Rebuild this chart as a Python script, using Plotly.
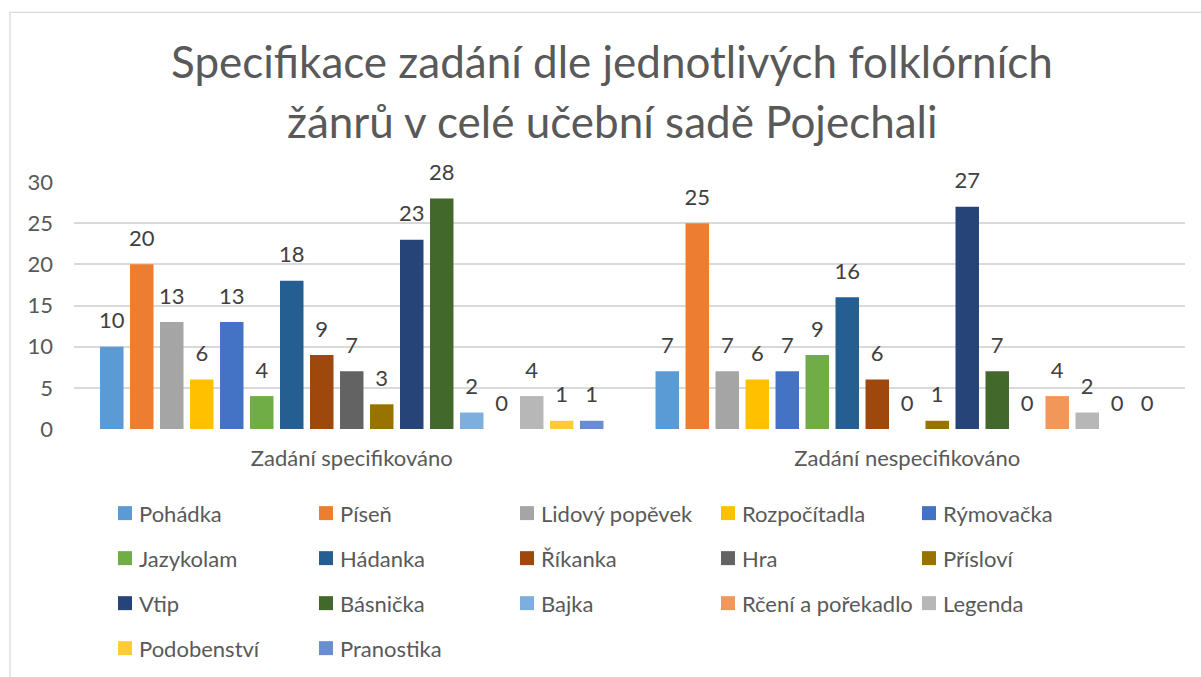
import plotly.graph_objects as go

categories = ["Zadání specifikováno", "Zadání nespecifikováno"]
series_names = ["Pohádka", "Píseň", "Lidový popěvek", "Rozpočítadla", "Rýmovačka",
                "Jazykolam", "Hádanka", "Říkanka", "Hra", "Přísloví",
                "Vtip", "Básnička", "Bajka", "Rčení a pořekadlo", "Legenda",
                "Podobenství", "Pranostika"]
specifikovano = [10, 20, 13, 6, 13, 4, 18, 9, 7, 3, 23, 28, 2, 0, 4, 1, 1]
nespecifikovano = [7, 25, 7, 6, 7, 9, 16, 6, 0, 1, 27, 7, 0, 4, 2, 0, 0]
colors = ["#5B9BD5", "#ED7D31", "#A5A5A5", "#FFC000", "#4472C4",
          "#70AD47", "#255E91", "#9E480E", "#636363", "#997300",
          "#264478", "#43682B", "#7CAFDD", "#F1975A", "#B7B7B7",
          "#FFCD33", "#698ED0"]
y_ticks = [0, 5, 10, 15, 20, 25, 30]

W, H = 1201, 677
L, R, T, B = 74, 1185, 182, 429.5
FONT = "Lato"
TXT = "#595959"
FS = 22


def px(x):
    return (x - L) / (R - L)


def py(y):
    return (B - y) / (B - T)


fig = go.Figure()
for name, col, a, b in zip(series_names, colors, specifikovano, nespecifikovano):
    fig.add_trace(go.Bar(name=name, x=categories, y=[a, b], marker=dict(color=col, line=dict(width=0)),
                         showlegend=False, hoverinfo="skip"))
for name, col, a, b in zip(series_names, colors, specifikovano, nespecifikovano):
    fig.add_trace(go.Scatter(name=name, x=categories, y=[a, b], mode="markers+text",
                             text=[str(a), str(b)], textposition="top center",
                             orientation="v",
                             marker=dict(size=19, opacity=0, color=col),
                             textfont=dict(family=FONT, size=FS, color="#404040"),
                             cliponaxis=False, showlegend=False, hoverinfo="skip"))

shapes = [dict(type="rect", xref="paper", yref="paper", x0=px(10), y0=py(12), x1=px(1215), y1=py(700),
               line=dict(color="#D9D9D9", width=1.3), fillcolor="rgba(0,0,0,0)", layer="below")]
annotations = [
    dict(text="Specifikace zadání dle jednotlivých folklórních", x=px(612), y=py(61), xref="paper", yref="paper",
         xanchor="center", yanchor="middle", showarrow=False, font=dict(family=FONT, size=44, color=TXT)),
    dict(text="žánrů v celé učební sadě Pojechali", x=px(612), y=py(121), xref="paper", yref="paper",
         xanchor="center", yanchor="middle", showarrow=False, font=dict(family=FONT, size=44, color=TXT)),
]

ncol = 5
for i, (name, col) in enumerate(zip(series_names, colors)):
    r, c = divmod(i, ncol)
    x0 = 118 + 201 * c
    yc = 513.8 + 45.1 * r
    shapes.append(dict(type="rect", xref="paper", yref="paper", x0=px(x0), x1=px(x0 + 14),
                       y0=py(yc - 7), y1=py(yc + 7), fillcolor=col, line=dict(width=0)))
    annotations.append(dict(text=name, x=px(x0 + 19), y=py(yc), xref="paper", yref="paper",
                            xanchor="left", yanchor="middle", showarrow=False,
                            font=dict(family=FONT, size=FS, color=TXT)))

fig.update_layout(
    width=W, height=H,
    margin=dict(l=L, r=W - R, t=T, b=H - B, pad=0),
    paper_bgcolor="white", plot_bgcolor="white",
    barmode="group", bargap=0.082, bargroupgap=0.217,
    scattermode="group", scattergap=0.082,
    showlegend=False,
    shapes=shapes, annotations=annotations,
    xaxis=dict(showgrid=False, showline=False, zeroline=False, ticks="",
               tickfont=dict(family=FONT, size=FS, color=TXT), ticklabelstandoff=14),
    yaxis=dict(range=[0, 30], tickvals=y_ticks, showgrid=True, gridcolor="#D9D9D9", gridwidth=1.8,
               zeroline=False, showline=False, ticks="",
               tickfont=dict(family=FONT, size=FS, color=TXT), ticklabelstandoff=20),
)

fig.write_html("out.html", config={"displayModeBar": False},
               post_script="document.body.style.margin='0';")
